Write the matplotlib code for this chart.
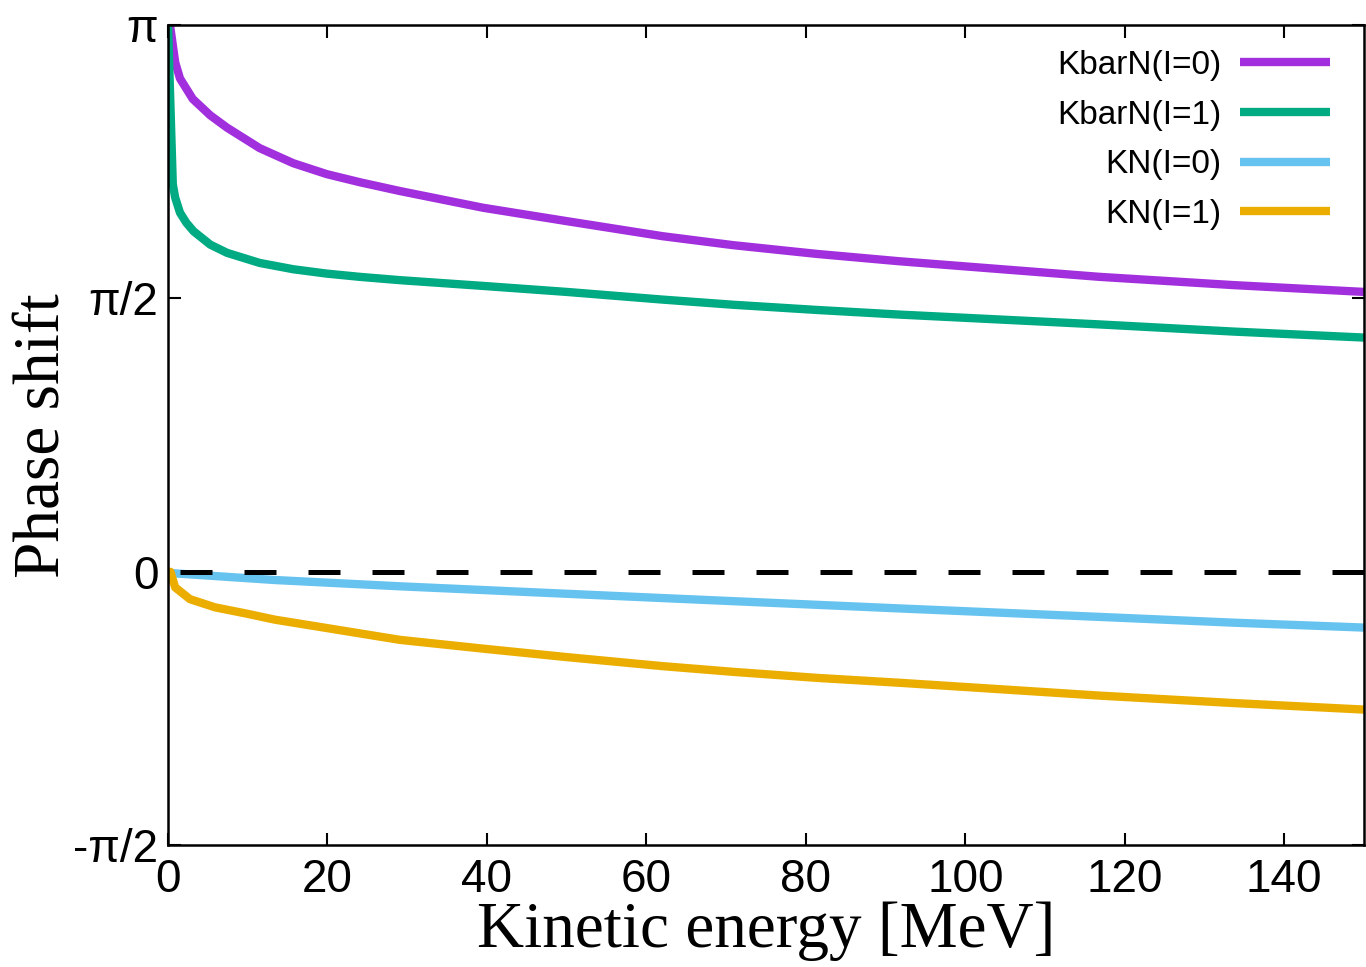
import numpy as np
import matplotlib
matplotlib.use("Agg")
import matplotlib.pyplot as plt

# phase shifts, in units of pi/2
e_kbarn0 = [0.25, 0.9, 1.5, 3.1, 5.3, 7.4, 11.5, 15.7, 19.9, 24.1, 29.1, 39.5, 50,
            62, 70.9, 81.4, 91.8, 116.9, 133.6, 150]
d_kbarn0 = [2.0, 1.864, 1.805, 1.73, 1.67, 1.625, 1.55, 1.495, 1.455, 1.425, 1.393,
            1.332, 1.283, 1.228, 1.195, 1.163, 1.136, 1.079, 1.049, 1.024]

e_kbarn1 = [0.0, 0.6, 0.9, 1.5, 2.3, 3.2, 5.3, 7.4, 11.5, 15.7, 19.9, 24.1, 29.1,
            39.5, 50, 62, 70.9, 81.4, 91.8, 116.9, 133.6, 150]
d_kbarn1 = [2.0, 1.418, 1.369, 1.314, 1.277, 1.246, 1.197, 1.167, 1.13, 1.107, 1.091,
            1.079, 1.067, 1.046, 1.024, 0.996, 0.977, 0.958, 0.941, 0.905, 0.879, 0.857]

e_kn0 = [0.0, 0.5, 13.4, 29.1, 62, 91.8, 116.9, 133.6, 150]
d_kn0 = [0.0, -0.005, -0.03, -0.053, -0.096, -0.134, -0.165, -0.186, -0.204]

e_kn1 = [0.0, 0.3, 0.9, 2.75, 5.9, 9.7, 13.4, 29.1, 39.5, 50, 62, 70.9, 81.4, 91.8,
         116.9, 133.6, 150]
d_kn1 = [-0.015, 0.0, -0.057, -0.10, -0.13, -0.152, -0.175, -0.249, -0.281, -0.312,
         -0.345, -0.366, -0.388, -0.406, -0.453, -0.48, -0.504]

labels = ["KbarN(I=0)", "KbarN(I=1)", "KN(I=0)", "KN(I=1)"]
colors = ["#a22fdd", "#00aa82", "#66c3ef", "#ebae00"]

xticks = [0, 20, 40, 60, 80, 100, 120, 140]
yticks = [-np.pi / 2, 0, np.pi / 2, np.pi]
ytick_labels = ["-π/2", "0", "π/2", "π"]

fig = plt.figure(figsize=(13.66, 9.67), dpi=100)
ax = fig.add_axes([0.123, 0.126, 0.8755, 0.848])

series = [(e_kbarn0, d_kbarn0), (e_kbarn1, d_kbarn1), (e_kn0, d_kn0), (e_kn1, d_kn1)]
for (e, d), lab, c in zip(series, labels, colors):
    ax.plot(e, np.array(d) * np.pi / 2, color=c, lw=6.0, label=lab,
            solid_joinstyle="round", solid_capstyle="butt")

# zero line: 32 px dashes, 32 px gaps, first dash ~12 px right of the axis
ax.axhline(0, color="black", lw=3.6, linestyle=(10.4, (6.4, 6.4)), zorder=3)

ax.set_xlim(0, 150)
ax.set_ylim(-np.pi / 2, np.pi)
ax.set_xticks(xticks)
ax.set_xticklabels([str(t) for t in xticks], family="Liberation Sans", fontsize=33)
ax.set_yticks(yticks)
ax.set_yticklabels(ytick_labels, family="Liberation Sans", fontsize=33)
ax.tick_params(direction="in", length=9, width=1.5, top=True, right=True)
ax.tick_params(axis="x", pad=9)
ax.tick_params(axis="y", pad=7)
for s in ax.spines.values():
    s.set_linewidth(1.8)

ax.set_xlabel("Kinetic energy [MeV]", family="Liberation Serif", fontsize=47, labelpad=0)
ax.set_ylabel("Phase shift", family="Liberation Serif", fontsize=47, labelpad=0)

leg = ax.legend(loc="upper right", frameon=False, markerfirst=False,
                prop={"family": "Liberation Sans", "size": 24},
                handlelength=2.7, labelspacing=0.56, handletextpad=0.55,
                borderaxespad=0.3, bbox_to_anchor=(0.991, 0.998))

fig.savefig("out.png", dpi=100)
